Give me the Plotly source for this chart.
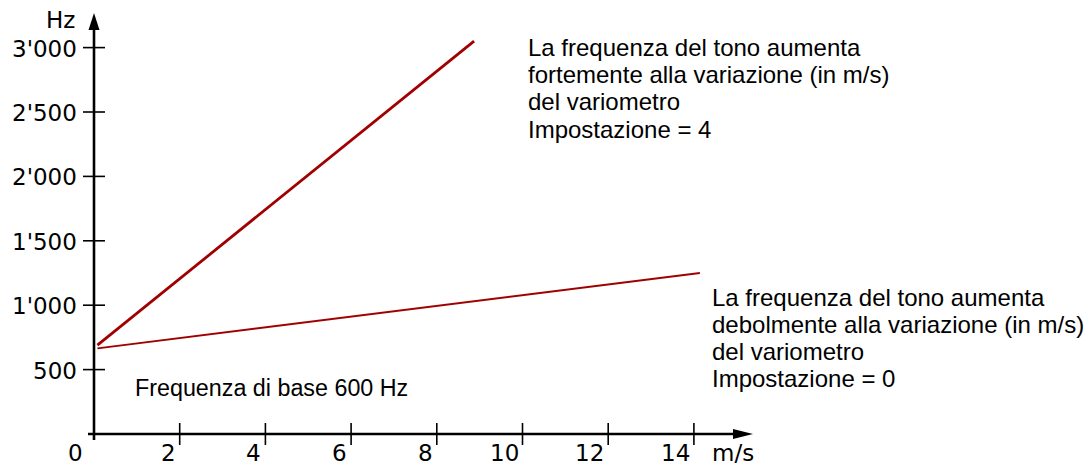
import plotly.graph_objects as go

# ---- data ----
steep_x = [0.08, 8.87]
steep_y = [690, 3050]
shallow_x = [0.08, 14.14]
shallow_y = [665, 1250]
x_ticks = [0, 2, 4, 6, 8, 10, 12, 14]
y_ticks = [500, 1000, 1500, 2000, 2500, 3000]
y_tick_labels = [f"{v:,}".replace(",", "'") for v in y_ticks]
x_tick_labels = [str(v) for v in x_ticks]
text_top = ["La frequenza del tono aumenta",
            "fortemente alla variazione (in m/s)",
            "del variometro",
            "Impostazione = 4"]
text_bottom = ["La frequenza del tono aumenta",
               "debolmente alla variazione (in m/s)",
               "del variometro",
               "Impostazione = 0"]
text_base = "Frequenza di base 600 Hz"

# ---- layout geometry ----
W, H = 1087, 466
X0PIX, Y0PIX = 94, 434          # pixel of data origin
PX_X, PX_Y = 42.85, 0.1288      # pixels per unit
x_range = [-X0PIX / PX_X, (W - X0PIX) / PX_X]
y_range = [(Y0PIX - H) / PX_Y, Y0PIX / PX_Y]

RED = "#A00000"
TICK_FONT = dict(family="DejaVu Sans", size=23, color="black")
TEXT_FONT = dict(family="Liberation Sans, Arial", size=24, color="black")
BASE_FONT = dict(family="Liberation Sans, Arial", size=23.3, color="black")

fig = go.Figure()
fig.add_trace(go.Scatter(x=steep_x, y=steep_y, mode="lines",
                         line=dict(color=RED, width=2.8), hoverinfo="skip"))
fig.add_trace(go.Scatter(x=shallow_x, y=shallow_y, mode="lines",
                         line=dict(color=RED, width=1.8), hoverinfo="skip"))

shapes = []
# x axis line
shapes.append(dict(type="line", xref="x", yref="y", xsizemode="pixel", xanchor=0,
                   x0=-6, x1=641, y0=0, y1=0, line=dict(color="black", width=2.6)))
# x arrow
shapes.append(dict(type="path", xref="x", yref="y", xsizemode="pixel", ysizemode="pixel",
                   xanchor=0, yanchor=0, path="M 639,-5 L 659,0 L 639,5 Z",
                   fillcolor="black", line=dict(color="black", width=0)))
# y axis line
shapes.append(dict(type="line", xref="x", yref="y", ysizemode="pixel", yanchor=0,
                   x0=0, x1=0, y0=-6, y1=406, line=dict(color="black", width=2.6)))
# y arrow
shapes.append(dict(type="path", xref="x", yref="y", xsizemode="pixel", ysizemode="pixel",
                   xanchor=0, yanchor=0, path="M -5.5,404 L 0,421 L 5.5,404 Z",
                   fillcolor="black", line=dict(color="black", width=0)))
# ticks
for v in x_ticks[1:]:
    shapes.append(dict(type="line", xref="x", yref="y", ysizemode="pixel", yanchor=0,
                       x0=v, x1=v, y0=-11, y1=11, line=dict(color="black", width=1.6)))
for v in y_ticks:
    shapes.append(dict(type="line", xref="x", yref="y", xsizemode="pixel", xanchor=0,
                       x0=-11, x1=11, y0=v, y1=v, line=dict(color="black", width=1.6)))

ann = []
for v, lab in zip(x_ticks, x_tick_labels):
    ann.append(dict(x=v, y=0, xref="x", yref="y", text=lab, showarrow=False,
                    xanchor="right", yanchor="middle",
                    xshift=-9 if v == 0 else -2, yshift=-19, font=TICK_FONT))
for v, lab in zip(y_ticks, y_tick_labels):
    ann.append(dict(x=0, y=v, xref="x", yref="y", text=lab, showarrow=False,
                    xanchor="right", yanchor="middle", xshift=-15, yshift=-1,
                    font=TICK_FONT))
ann.append(dict(x=0, y=0, xref="x", yref="y", text="m/s", showarrow=False,
                xanchor="left", yanchor="middle", xshift=616, yshift=-19, font=TICK_FONT))
ann.append(dict(x=0, y=0, xref="x", yref="y", text="Hz", showarrow=False,
                xanchor="right", yanchor="middle", xshift=-17, yshift=414, font=TICK_FONT))

def add_block(lines, left_px, first_center_px, spacing, font):
    for i, t in enumerate(lines):
        ann.append(dict(x=left_px / W, y=1 - (first_center_px + i * spacing) / H,
                        xref="paper", yref="paper", text=t, showarrow=False,
                        xanchor="left", yanchor="middle", font=font))

add_block(text_top, 526, 47, 27.5, TEXT_FONT)
add_block(text_bottom, 710, 297, 27, TEXT_FONT)
add_block([text_base], 133, 388, 27, BASE_FONT)

fig.update_layout(
    width=W, height=H, margin=dict(l=0, r=0, t=0, b=0),
    paper_bgcolor="white", plot_bgcolor="white", showlegend=False,
    xaxis=dict(range=x_range, visible=False, fixedrange=True),
    yaxis=dict(range=y_range, visible=False, fixedrange=True),
    shapes=shapes, annotations=ann,
)
fig.write_html("out.html", post_script="document.body.style.margin='0px';",
               config={"displayModeBar": False})
